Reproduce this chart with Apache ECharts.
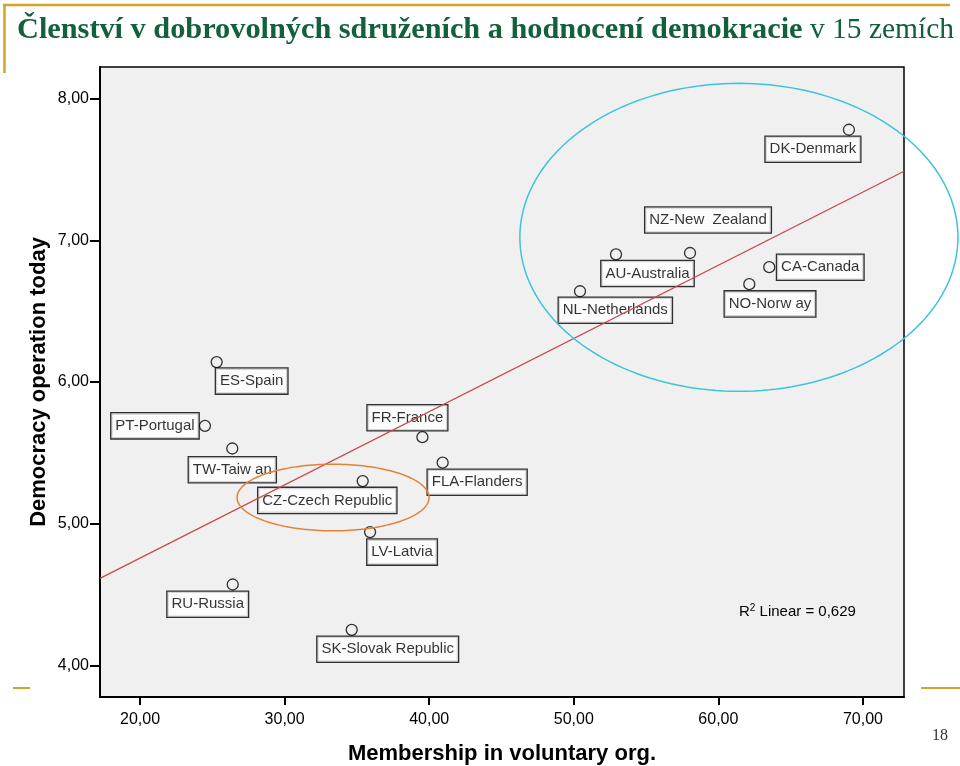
<!DOCTYPE html>
<html><head><meta charset="utf-8">
<script src="https://cdn.jsdelivr.net/npm/echarts@6/dist/echarts.min.js"></script>
<style>html,body{margin:0;padding:0;background:#fff}#c{width:960px;height:766px}</style>
</head><body><div id="c"></div>
<script>
// ---- data ----
const countries = ['DK-Denmark','NZ-New  Zealand','AU-Australia','NL-Netherlands','CA-Canada','NO-Norw ay','ES-Spain','PT-Portugal','TW-Taiw an','CZ-Czech Republic','FR-France','FLA-Flanders','LV-Latvia','RU-Russia','SK-Slovak Republic'];
const membership = [69.03, 58.04, 52.92, 50.43, 63.52, 62.14, 25.30, 24.49, 26.38, 35.40, 39.53, 40.93, 35.91, 26.41, 34.64];
const democracy  = [7.78, 6.91, 6.90, 6.64, 6.81, 6.69, 6.14, 5.69, 5.53, 5.30, 5.61, 5.43, 4.94, 4.57, 4.25];
const xTicks = [20, 30, 40, 50, 60, 70];
const yTicks = [4, 5, 6, 7, 8];
const fitIntercept = 3.723;
const fitSlope = 0.05168;
const r2Text = '0,629';
// highlight ellipses: [centerX, centerY, radiusX, radiusY] in data units
const ellipses = [[61.42, 7.021, 15.15, 1.087], [33.35, 5.184, 6.64, 0.235]];

// ---- layout / style ----
const xExtent = [17.23, 72.84];
const yExtent = [3.776, 8.223];
const labelOffsets = [[-36,19.5],[18,-33],[31.5,19],[35.3,19],[51,0],[20.7,19.7],[35,19],[-50,0],[0,21.3],[-35.4,19.3],[-15,-19.5],[34.5,19.6],[32,20],[-25,19.7],[36,19.4]];
const ellipseColors = ['#3dc3dd', '#e2823a'];
const gold = '#d3a32b';
const sans = 'Liberation Sans, Arial, sans-serif';
const serif = 'Liberation Serif, Times New Roman, serif';
const fmt = v => v.toFixed(2).replace('.', ',');

const chart = echarts.init(document.getElementById('c'));
chart.setOption({
  animation: false,
  backgroundColor: '#fff',
  title: {
    left: 17, top: 15, padding: 0,
    text: '{b|Členství v dobrovolných sdruženích a hodnocení demokracie}{r| v 15 zemích}',
    textStyle: {
      rich: {
        b: {fontFamily: serif, fontWeight: 'bold', fontSize: 30.3, color: '#12603c'},
        r: {fontFamily: serif, fontWeight: 'normal', fontSize: 29.5, color: '#12603c'}
      }
    }
  },
  grid: {left: 100, right: 56, top: 67, bottom: 69, outerBoundsMode: 'none', containLabel: false, show: true, backgroundColor: '#f0f0f0', borderColor: '#000', borderWidth: 1.5},
  xAxis: {
    type: 'value', min: xExtent[0], max: xExtent[1],
    name: 'Membership in voluntary org.', nameLocation: 'middle', nameGap: 46, nameMoveOverlap: false,
    nameTextStyle: {fontFamily: sans, fontWeight: 'bold', fontSize: 22, color: '#000'},
    axisLine: {show: true, lineStyle: {color: '#000', width: 2}},
    axisTick: {show: true, length: 8, lineStyle: {color: '#000', width: 2}, customValues: xTicks},
    axisLabel: {customValues: xTicks, formatter: fmt, fontFamily: sans, fontSize: 16, color: '#000', margin: 15},
    splitLine: {show: false}
  },
  yAxis: {
    type: 'value', min: yExtent[0], max: yExtent[1],
    name: 'Democracy operation today', nameLocation: 'middle', nameGap: 50, nameMoveOverlap: false,
    nameTextStyle: {fontFamily: sans, fontWeight: 'bold', fontSize: 22, color: '#000'},
    axisLine: {show: true, lineStyle: {color: '#000', width: 2}},
    axisTick: {show: true, length: 10, lineStyle: {color: '#000', width: 2}, customValues: yTicks},
    axisLabel: {customValues: yTicks, formatter: fmt, fontFamily: sans, fontSize: 16, color: '#000', margin: 11},
    splitLine: {show: false}
  },
  series: [
    {
      type: 'scatter', z: 2,
      symbol: 'circle', symbolSize: 11,
      itemStyle: {color: 'rgba(0,0,0,0)', borderColor: '#000', borderWidth: 1.3},
      label: {
        show: true, position: 'inside', formatter: p => p.name,
        fontFamily: sans, fontSize: 15, color: '#000',
        backgroundColor: '#fff', borderColor: '#000', borderWidth: 1.3,
        padding: [4, 4, 3, 4], lineHeight: 18
      },
      emphasis: {disabled: true},
      data: countries.map((n, i) => ({name: n, value: [membership[i], democracy[i]], label: {offset: labelOffsets[i]}}))
    },
    {
      type: 'line', z: 5, showSymbol: false, silent: true,
      lineStyle: {color: '#c9464e', width: 1.2},
      data: xExtent.map(x => [x, fitIntercept + fitSlope * x])
    },
    {
      type: 'custom', z: 6, clip: false, silent: true,
      encode: {x: 0, y: 1},
      renderItem: (params, api) => {
        const c = api.coord([api.value(0), api.value(1)]);
        const s = api.size([api.value(2), api.value(3)]);
        const pts = [];
        for (let k = 0; k < 180; k++) {
          const t = k / 180 * Math.PI * 2;
          pts.push([c[0] + s[0] * Math.cos(t), c[1] + s[1] * Math.sin(t)]);
        }
        return {type: 'polygon', shape: {points: pts}, style: {fill: 'transparent', stroke: ellipseColors[params.dataIndex], lineWidth: 1.5}};
      },
      data: ellipses
    }
  ],
  graphic: [
    {type: 'line', shape: {x1: 3, y1: 5, x2: 950, y2: 5}, style: {stroke: gold, lineWidth: 2.5}},
    {type: 'line', shape: {x1: 4.5, y1: 5, x2: 4.5, y2: 73}, style: {stroke: gold, lineWidth: 2.5}},
    {type: 'line', shape: {x1: 13, y1: 688, x2: 30, y2: 688}, style: {stroke: gold, lineWidth: 2}},
    {type: 'line', shape: {x1: 921, y1: 688, x2: 960, y2: 688}, style: {stroke: gold, lineWidth: 2}},
    {type: 'text', left: 932, top: 728, style: {text: '18', font: '16px ' + serif, fill: '#333'}},
    {type: 'text', left: 739, top: 603, z: 10, style: {
      text: '{a|R}{s|2}{a| Linear = ' + r2Text + '}',
      rich: {
        a: {fontFamily: sans, fontSize: 15, color: '#000', lineHeight: 18},
        s: {fontFamily: sans, fontSize: 10, color: '#000', lineHeight: 18, verticalAlign: 'top', padding: [0, 0, 6, 0]}
      }
    }}
  ]
});
</script></body></html>
